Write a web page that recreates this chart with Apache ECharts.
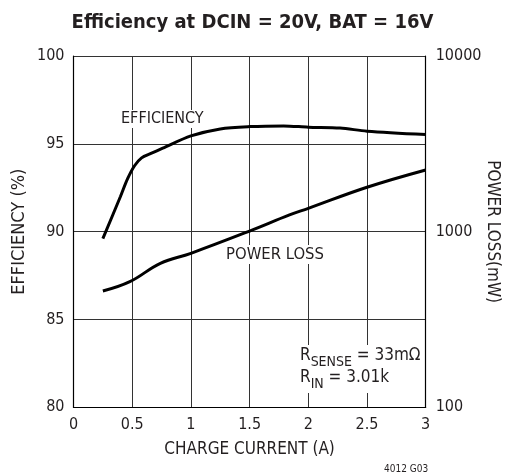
<!DOCTYPE html>
<html><head><meta charset="utf-8">
<script src="https://cdn.jsdelivr.net/npm/echarts@6/dist/echarts.min.js"></script>
<style>html,body{margin:0;padding:0;background:#fff}#c{width:505px;height:475px}</style>
</head><body><div id="c"></div>
<script>
const current = [0.25, 0.4, 0.46, 0.52, 0.58, 0.66, 0.76, 1.0, 1.25, 1.5, 1.79, 2.0, 2.27, 2.5, 3.0];
const efficiency = [89.6, 92.0, 93.0, 93.75, 94.2, 94.45, 94.75, 95.45, 95.85, 95.98, 96.02, 95.95, 95.9, 95.72, 95.53];
const lossCurrent = [0.25, 0.48, 0.74, 1.0, 1.5, 1.84, 2.0, 2.5, 3.0];
const powerLoss = [459, 519, 660, 753, 1008, 1245, 1358, 1790, 2245];
const xTicks = [0, 0.5, 1, 1.5, 2, 2.5, 3];

const FONT = '"Liberation Sans Narrow", "DejaVu Sans Condensed", "Liberation Sans", sans-serif';
const chart = echarts.init(document.getElementById('c'), null, {renderer: 'canvas'});
const gridColor = '#333';
chart.setOption({
  animation: false,
  backgroundColor: '#fff',
  textStyle: {fontFamily: FONT},
  title: {
    text: 'Efficiency at DCIN = 20V, BAT = 16V',
    left: 'center', top: 8,
    textStyle: {fontFamily: FONT, fontWeight: 'bold', fontSize: 20, color: '#231f20'}
  },
  grid: {left: 73.5, right: 79.3, top: 56, bottom: 67.7, containLabel: false, outerBoundsMode: 'none'},
  xAxis: {
    type: 'value', min: 0, max: 3, interval: 0.5,
    name: 'CHARGE CURRENT (A)', nameLocation: 'middle', nameGap: 34, nameMoveOverlap: false,
    nameTextStyle: {fontFamily: FONT, fontSize: 17, color: '#231f20'},
    axisLine: {show: true, lineStyle: {color: '#000', width: 1.2}},
    axisTick: {show: false},
    axisLabel: {fontFamily: FONT, fontSize: 16, color: '#231f20', margin: 10,
      formatter: v => xTicks.includes(v) ? String(v) : ''},
    splitLine: {show: true, lineStyle: {color: gridColor, width: 1}}
  },
  yAxis: [{
    type: 'value', min: 80, max: 100, interval: 5, position: 'left',
    name: 'EFFICIENCY (%)', nameLocation: 'middle', nameGap: 45, nameRotate: 90, nameMoveOverlap: false,
    nameTextStyle: {fontFamily: FONT, fontSize: 18, color: '#231f20'},
    axisLine: {show: true, lineStyle: {color: '#000', width: 1.2}},
    axisTick: {show: false},
    axisLabel: {fontFamily: FONT, fontSize: 16, color: '#231f20', margin: 9},
    splitLine: {show: true, lineStyle: {color: gridColor, width: 1}}
  }, {
    type: 'log', logBase: 10, min: 100, max: 10000, position: 'right',
    name: 'POWER LOSS(mW)', nameLocation: 'middle', nameGap: 58, nameRotate: -90, nameMoveOverlap: false,
    nameTextStyle: {fontFamily: FONT, fontSize: 17, color: '#231f20'},
    axisLine: {show: true, lineStyle: {color: '#000', width: 1.2}},
    axisTick: {show: false},
    axisLabel: {fontFamily: FONT, fontSize: 16, color: '#231f20', margin: 10, formatter: v => String(v)},
    splitLine: {show: false}
  }],
  graphic: [
    {type: 'text', left: 119, top: 110, z: 50,
      style: {text: 'EFFICIENCY', font: '16px ' + FONT, fill: '#231f20', backgroundColor: '#fff', padding: [1, 2]}},
    {type: 'text', left: 224, top: 245, z: 50,
      style: {text: 'POWER LOSS', font: '16.5px ' + FONT, fill: '#231f20', backgroundColor: '#fff', padding: [1, 2]}},
    {type: 'text', left: 298, top: 345, z: 50,
      style: {
        text: '{n|R}{s|SENSE}{n| = 33mΩ}\n{n|R}{s|IN}{n| = 3.01k}',
        backgroundColor: '#fff', padding: [2, 2],
        rich: {
          n: {fontFamily: FONT, fontSize: 17, fill: '#231f20', lineHeight: 22, verticalAlign: 'top'},
          s: {fontFamily: FONT, fontSize: 14, fill: '#231f20', lineHeight: 22, verticalAlign: 'bottom', padding: [8, 0, 0, 0]}
        }
      }},
    {type: 'text', left: 384, top: 464,
      style: {text: '4012 G03', font: '10px ' + FONT, fill: '#231f20'}}
  ],
  series: [{
    type: 'line', name: 'Efficiency', yAxisIndex: 0, smooth: 0.3, showSymbol: false,
    lineStyle: {color: '#000', width: 3}, z: 10,
    data: current.map((c, i) => [c, efficiency[i]])
  }, {
    type: 'line', name: 'Power Loss', yAxisIndex: 1, smooth: 0.4, showSymbol: false,
    lineStyle: {color: '#000', width: 3}, z: 10,
    data: lossCurrent.map((c, i) => [c, powerLoss[i]])
  }]
});
</script></body></html>
